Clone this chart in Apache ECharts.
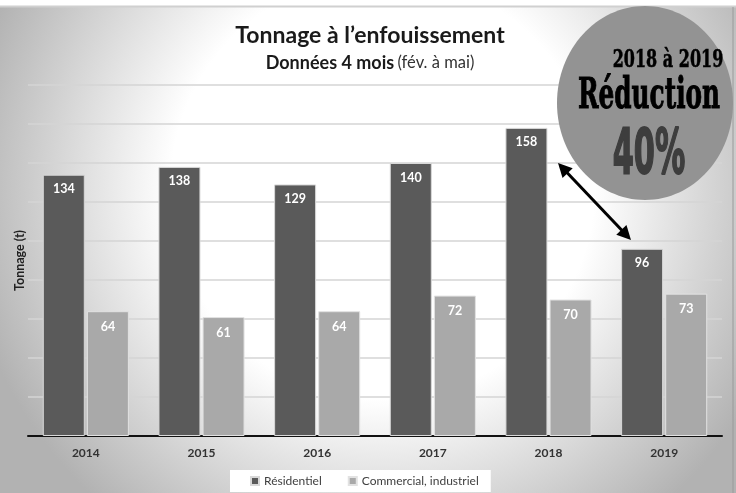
<!DOCTYPE html>
<html><head><meta charset="utf-8">
<script src="https://cdn.jsdelivr.net/npm/echarts@6/dist/echarts.min.js"></script>
<style>html,body{margin:0;padding:0;background:#fff}#c{width:736px;height:493px}</style>
</head><body><div id="c"></div>
<script>
const categories = ['2014','2015','2016','2017','2018','2019'];
const residentiel = [134, 138, 129, 140, 158, 96];
const commercial = [64, 61, 64, 72, 70, 73];
const seriesNames = ['Résidentiel', 'Commercial, industriel'];
const titleText = 'Tonnage à l’enfouissement';
const yAxisName = 'Tonnage (t)';
const badgeLines = ['2018 à 2019', 'Réduction', '40%'];

const chart = echarts.init(document.getElementById('c'), null, {renderer: 'canvas'});
const FONT = 'Lato, "Open Sans", sans-serif';

function arrowHead(tx, ty, fx, fy, len, half) {
  const dx = tx - fx, dy = ty - fy, d = Math.hypot(dx, dy);
  const ux = dx / d, uy = dy / d;
  const bx = tx - ux * len, by = ty - uy * len;
  return [[tx, ty], [bx - uy * half, by + ux * half], [bx + uy * half, by - ux * half]];
}
const A = [558, 163], B = [631, 240];

chart.setOption({
  animation: false,
  backgroundColor: {
    type: 'radial', x: 0.52, y: 0.38, r: 0.86,
    colorStops: [{offset: 0, color: '#ffffff'}, {offset: 0.5, color: '#ffffff'}, {offset: 1, color: '#b2b2b2'}]
  },
  title: {
    text: titleText,
    subtext: '{b|Données 4 mois} {r|(fév. à mai)}',
    left: 365, top: 19, textAlign: 'center', itemGap: 7,
    textStyle: {fontFamily: FONT, fontWeight: 'bold', fontSize: 23, color: '#1a1a1a'},
    subtextStyle: {
      rich: {
        b: {fontFamily: FONT, fontWeight: 'bold', fontSize: 18, color: '#1a1a1a'},
        r: {fontFamily: FONT, fontSize: 16.5, color: '#333'}
      }
    }
  },
  legend: {
    data: seriesNames, left: 230, top: 470,
    backgroundColor: '#ffffff', padding: [5, 12, 5, 20], itemGap: 26,
    icon: 'rect', itemWidth: 8, itemHeight: 8,
    textStyle: {fontFamily: FONT, fontSize: 12, color: '#404040'}
  },
  grid: {left: 28, right: 14, top: 85, bottom: 57, containLabel: false},
  xAxis: {
    type: 'category', data: categories,
    axisLine: {lineStyle: {color: '#111', width: 2}},
    axisTick: {show: false},
    axisLabel: {fontFamily: FONT, fontWeight: 'bold', fontSize: 12, color: '#333', margin: 11}
  },
  yAxis: {
    type: 'value', min: 0, max: 180, interval: 20,
    name: yAxisName, nameLocation: 'middle', nameGap: 2, nameRotate: 90,
    nameTextStyle: {fontFamily: FONT, fontWeight: 'bold', fontSize: 12.5, color: '#222'},
    axisLabel: {show: false}, axisLine: {show: false}, axisTick: {show: false},
    splitLine: {lineStyle: {color: '#d4d4d4', width: 1.5}}
  },
  series: [
    {
      name: seriesNames[0], type: 'bar', data: residentiel, barWidth: 42, barGap: '5%',
      itemStyle: {color: '#5a5a5a', borderColor: '#d8d8d8', borderWidth: 1},
      label: {show: true, position: 'insideTop', distance: 8, color: '#fff', fontFamily: FONT, fontWeight: 'bold', fontSize: 12.5}
    },
    {
      name: seriesNames[1], type: 'bar', data: commercial, barWidth: 42,
      itemStyle: {color: '#a9a9a9', borderColor: '#e2e2e2', borderWidth: 1},
      label: {show: true, position: 'insideTop', distance: 9, color: '#fff', fontFamily: FONT, fontWeight: 'bold', fontSize: 12.5}
    }
  ],
  graphic: [
    {type: 'rect', shape: {x: 0, y: 0, width: 736, height: 6}, style: {fill: '#ffffff'}, z: 100},
    {type: 'line', shape: {x1: 0, y1: 6.5, x2: 736, y2: 6.5}, style: {stroke: '#d0d0d0', lineWidth: 2}, z: 100},
    {type: 'line', shape: {x1: 733, y1: 7, x2: 733, y2: 493}, style: {stroke: '#9a9a9a', lineWidth: 1}, z: 100},
    {type: 'ellipse', shape: {cx: 645, cy: 103, rx: 88, ry: 97}, style: {fill: '#939393'}, z: 101},
    {type: 'text', x: 668, y: 60, scaleX: 0.64, z: 102,
      style: {text: badgeLines[0], font: 'bold 25px "DejaVu Serif"', fill: '#000', textAlign: 'center', textVerticalAlign: 'middle', stroke: '#000', lineWidth: 0.6}},
    {type: 'text', x: 649, y: 97, scaleX: 0.59, z: 102,
      style: {text: badgeLines[1], font: 'bold 42px "DejaVu Serif"', fill: '#000', textAlign: 'center', textVerticalAlign: 'middle', stroke: '#000', lineWidth: 1}},
    {type: 'text', x: 649, y: 157, scaleX: 0.48, z: 102,
      style: {text: badgeLines[2], font: 'bold 63px "DejaVu Sans"', fill: '#3d3d3d', textAlign: 'center', textVerticalAlign: 'middle', stroke: '#3d3d3d', lineWidth: 2}},
    {type: 'line', shape: {x1: A[0] + 8, y1: A[1] + 8.5, x2: B[0] - 8, y2: B[1] - 8.5}, style: {stroke: '#000', lineWidth: 3}, z: 103},
    {type: 'polygon', shape: {points: arrowHead(A[0], A[1], B[0], B[1], 14, 7)}, style: {fill: '#000'}, z: 103},
    {type: 'polygon', shape: {points: arrowHead(B[0], B[1], A[0], A[1], 14, 7)}, style: {fill: '#000'}, z: 103}
  ]
});
</script>
</body></html>
